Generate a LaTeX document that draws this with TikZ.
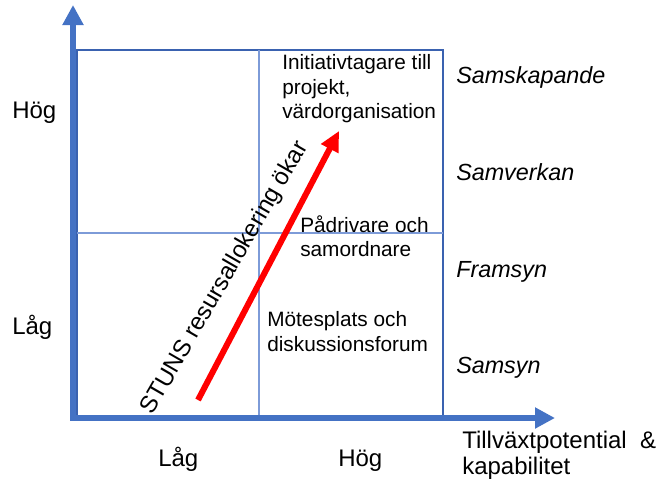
\documentclass[tikz,border=0pt]{standalone}
\usepackage{fontspec}
\setmainfont{Liberation Sans}
\usetikzlibrary{arrows.meta}
\definecolor{axisblue}{HTML}{4472C4}
\definecolor{boxblue}{HTML}{3A62B0}
\definecolor{gridblue}{HTML}{7D9BD8}
\definecolor{arrowred}{HTML}{FF0000}
\tikzset{
  axis/.style={axisblue, line width=4.5pt, -{Triangle[length=15pt, width=15pt]}},
  level/.style={anchor=base west, inner sep=0pt, font=\fontsize{17.5}{20}\selectfont\itshape},
  axislabel/.style={anchor=base west, inner sep=0pt, font=\fontsize{18}{20}\selectfont},
  role/.style={anchor=north west, inner sep=0pt, align=left, font=\fontsize{15.6}{18.5}\selectfont}
}
\begin{document}
\begin{tikzpicture}[x=0.75pt, y=-0.75pt]
    \useasboundingbox (0,0) rectangle (664,497);

    % Box and quadrants
    \draw[boxblue, line width=1.1pt] (77,50) rectangle (443,416);
    \draw[gridblue, line width=0.8pt] (259,50) -- (259,416);
    \draw[gridblue, line width=0.8pt] (77,233) -- (443,233);

    % Axes
    \coordinate (origin) at (73,418);
    \coordinate (ytip) at (73,5);
    \coordinate (xtip) at (555,418);
    \draw[axis] ([yshift=-2pt]origin) -- (ytip);
    \draw[axis] ([xshift=-2pt]origin) -- (xtip);

    % Axis labels
    \node[axislabel] (yhigh) at (12,118) {Hög};
    \node[axislabel] (ylow) at (12,334) {Låg};
    \node[axislabel] (xlow) at (158,466) {Låg};
    \node[axislabel] (xhigh) at (338,466) {Hög};
    \node[axislabel, align=left, anchor=north west, font=\fontsize{18}{19.5}\selectfont] (xname) at (462,431) {Tillväxtpotential~~\&\\kapabilitet};

    % Levels
    \node[level] (samskapande) at (456,83) {Samskapande};
    \node[level] (samverkan) at (456,180) {Samverkan};
    \node[level] (framsyn) at (456,277) {Framsyn};
    \node[level] (samsyn) at (456,373) {Samsyn};

    % Roles
    \node[role] (initiativ) at (282,54) {Initiativtagare till\\projekt,\\värdorganisation};
    \node[role] (padrivare) at (300,215) {Pådrivare och\\samordnare};
    \node[role] (motesplats) at (267,311) {Mötesplats och\\diskussionsforum};

    % Resource arrow
    \coordinate (start) at (198,400);
    \coordinate (tip) at (339,131);
    \draw[arrowred, line width=4.5pt, -{Triangle[length=15pt, width=14pt]}] (start) -- (tip);
    \node[rotate=60, inner sep=0pt, font=\fontsize{18}{20}\selectfont] (stuns) at (225,278) {STUNS resursallokering ökar};
\end{tikzpicture}
\end{document}
